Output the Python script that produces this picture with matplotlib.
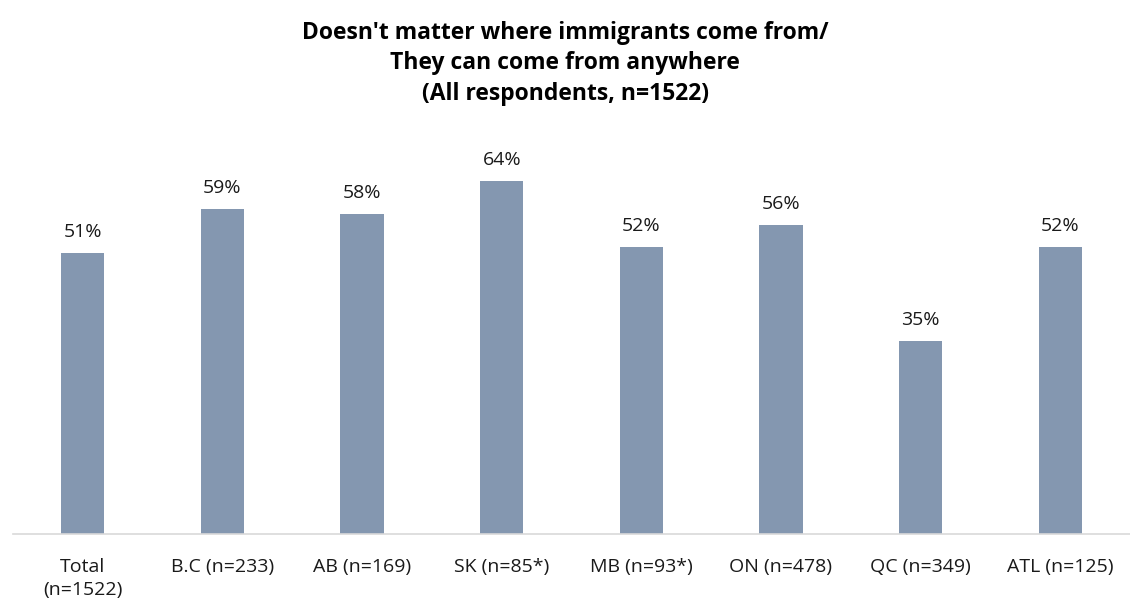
import numpy as np
import matplotlib.pyplot as plt

# Data
categories = ["Total\n(n=1522)", "B.C (n=233)", "AB (n=169)", "SK (n=85*)",
              "MB (n=93*)", "ON (n=478)", "QC (n=349)", "ATL (n=125)"]
values = [51, 59, 58, 64, 52, 56, 35, 52]
title = "Doesn't matter where immigrants come from/\nThey can come from anywhere\n(All respondents, n=1522)"

plt.rcParams['font.family'] = ['Open Sans', 'DejaVu Sans']

fig = plt.figure(figsize=(11.30, 6.05), dpi=100)
# axes placed in pixel terms: left 13, right 1130, bottom at y=534, top at y=148
ax = fig.add_axes([13 / 1130, (605 - 534) / 605, 1117 / 1130, (534 - 148) / 605])

x = np.arange(len(categories))
bars = ax.bar(x, values, width=0.31, color="#8497B0")

for xi, v in zip(x, values):
    ax.text(xi, v + 2.2, f"{v}%", ha="center", va="bottom", fontsize=14, color="#1a1a1a")

ax.set_xlim(-0.5, len(categories) - 0.5)
ax.set_ylim(0, 70)
ax.set_yticks([])
ax.set_xticks(x)
ax.set_xticklabels(categories, fontsize=14, color="#1a1a1a", linespacing=1.4)
ax.tick_params(axis="x", length=0, pad=17)

for side in ["top", "right", "left"]:
    ax.spines[side].set_visible(False)
ax.spines["bottom"].set_color("#D9D9D9")
ax.spines["bottom"].set_linewidth(1.2)

fig.text(0.5, 1 - 21 / 605, title, ha="center", va="top", fontsize=16.5,
         fontweight="bold", linespacing=1.35)

fig.savefig("out.png", dpi=100)
